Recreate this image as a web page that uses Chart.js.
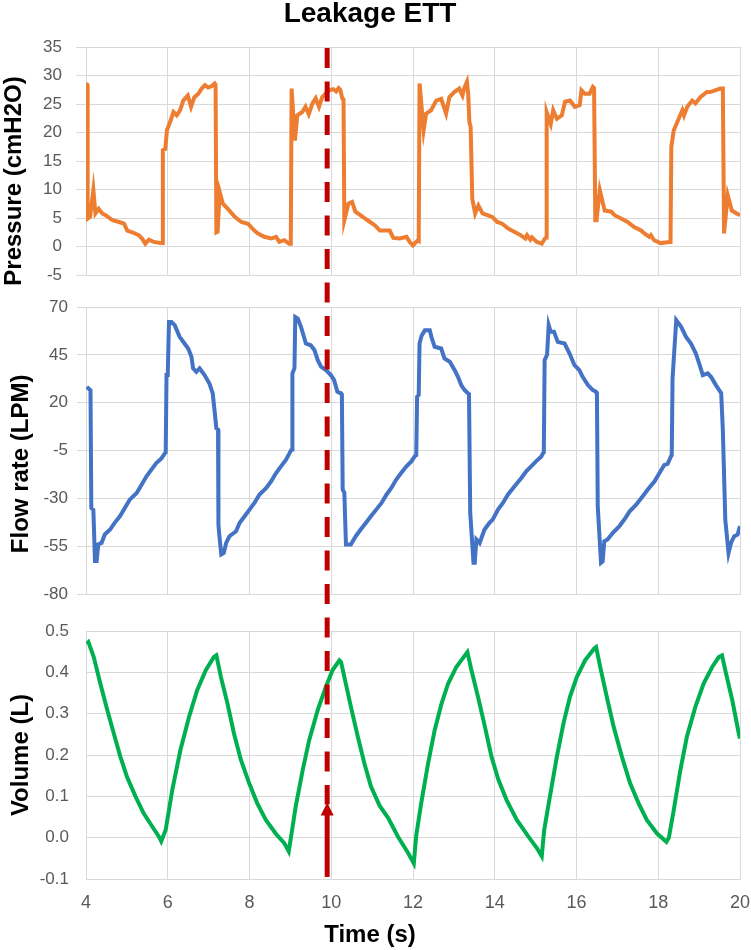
<!DOCTYPE html>
<html>
<head>
<meta charset="utf-8">
<title>Leakage ETT</title>
<script src="https://cdn.jsdelivr.net/npm/chart.js@4.4.1/dist/chart.umd.min.js"></script>
<style>
  html, body { margin: 0; padding: 0; background: #fff; }
  #wrap { position: relative; width: 751px; height: 950px; }
  .panel { position: absolute; left: 0; width: 751px; }
  #pPanel { top: 0; height: 290px; }
  #fPanel { top: 290px; height: 322px; }
  #vPanel { top: 612px; height: 338px; }
</style>
</head>
<body>
<div id="wrap">
  <div class="panel" id="pPanel"><canvas id="pressureChart"></canvas></div>
  <div class="panel" id="fPanel"><canvas id="flowChart"></canvas></div>
  <div class="panel" id="vPanel"><canvas id="volumeChart"></canvas></div>
</div>
<script>
// ===== DATA =====
const pressureTime = [4.00, 4.03, 4.04, 4.10, 4.18, 4.23, 4.31, 4.40, 4.48, 4.65, 4.81, 4.93, 5.01, 5.13, 5.29, 5.37, 5.45, 5.54, 5.66, 5.82, 5.86,
  5.88, 5.94, 5.98, 6.04, 6.14, 6.22, 6.30, 6.38, 6.49, 6.57, 6.65, 6.75, 6.83, 6.91, 6.99, 7.07, 7.15, 7.17,
  7.19, 7.22, 7.27, 7.35, 7.47, 7.64, 7.80, 7.96, 8.04, 8.12, 8.20, 8.36, 8.53, 8.65, 8.73, 8.85, 8.97, 9.01,
  9.03, 9.11, 9.17, 9.29, 9.37, 9.45, 9.54, 9.62, 9.70, 9.78, 9.86, 9.95, 10.05, 10.12, 10.18, 10.22, 10.27, 10.30,
  10.32, 10.42, 10.51, 10.59, 10.71, 10.83, 10.95, 11.07, 11.19, 11.43, 11.52, 11.68, 11.84, 11.92, 12.00, 12.12, 12.14,
  12.16, 12.26, 12.32, 12.44, 12.57, 12.69, 12.81, 12.89, 13.01, 13.13, 13.21, 13.25, 13.32, 13.35, 13.38, 13.41,
  13.45, 13.52, 13.60, 13.70, 13.82, 13.94, 14.06, 14.18, 14.34, 14.50, 14.63, 14.75, 14.79, 14.87, 14.91, 15.03, 15.15, 15.23, 15.26,
  15.27, 15.37, 15.43, 15.52, 15.64, 15.72, 15.84, 15.96, 16.08, 16.12, 16.20, 16.32, 16.40, 16.43,
  16.46, 16.49, 16.57, 16.69, 16.85, 16.93, 17.09, 17.25, 17.41, 17.58, 17.66, 17.78, 17.82, 17.90, 18.06, 18.26, 18.30,
  18.32, 18.38, 18.50, 18.59, 18.63, 18.71, 18.83, 18.91, 19.03, 19.19, 19.27, 19.52, 19.58,
  19.61, 19.70, 19.80, 19.92, 20.00];
const pressureValues = [28.6, 28.4, 4.9, 5.2, 9.9, 5.8, 6.6, 5.8, 5.5, 4.6, 4.3, 4.0, 2.8, 2.5, 2.0, 1.4, 0.5, 1.2, 0.8, 0.6, 0.6,
  16.9, 17.1, 20.4, 21.5, 23.6, 23.0, 23.9, 25.6, 26.5, 24.5, 26.2, 26.8, 27.7, 28.3, 27.9, 28.1, 28.6, 28.4,
  2.5, 2.6, 9.6, 7.5, 6.6, 5.2, 4.3, 4.0, 3.4, 2.8, 2.3, 1.7, 1.4, 1.7, 0.8, 1.1, 0.5, 0.5,
  27.7, 18.6, 23.0, 23.6, 24.5, 23.2, 25.1, 26.0, 24.5, 26.2, 26.8, 27.4, 27.6, 27.2, 27.8, 27.5, 26.0, 25.8,
  4.6, 7.5, 7.8, 6.1, 5.5, 4.9, 4.3, 3.7, 2.8, 2.8, 1.5, 1.4, 1.7, 0.8, 0.2, 1.1, 1.0,
  28.6, 20.4, 23.3, 23.9, 25.6, 25.9, 23.3, 26.2, 27.1, 27.7, 26.5, 27.7, 28.9, 26.8, 21.8, 21.0,
  8.4, 5.8, 7.2, 5.8, 5.5, 5.2, 4.3, 4.0, 3.1, 2.5, 2.0, 1.4, 2.0, 1.2, 1.6, 0.8, 0.5, 1.4, 1.6,
  23.6, 21.5, 23.9, 22.4, 23.0, 25.4, 25.6, 24.5, 24.8, 27.4, 26.8, 26.8, 28.0, 27.8,
  4.6, 4.6, 9.9, 6.3, 6.1, 5.5, 4.9, 4.3, 3.4, 2.8, 2.3, 1.7, 2.0, 1.1, 0.6, 0.8, 0.8,
  17.5, 20.4, 22.4, 23.9, 23.0, 24.5, 25.6, 25.1, 26.2, 27.1, 27.1, 27.7, 27.7,
  2.3, 9.0, 6.3, 5.8, 5.5];

const flowTime = [4.02, 4.08, 4.11, 4.13, 4.18, 4.22, 4.26, 4.30, 4.38, 4.46, 4.59, 4.70, 4.83, 4.95, 5.07, 5.24, 5.36, 5.48, 5.60, 5.72, 5.85, 5.93, 5.95,
  5.97, 6.00, 6.03, 6.09, 6.17, 6.29, 6.41, 6.50, 6.58, 6.62, 6.70, 6.78, 6.90, 7.02, 7.10, 7.19, 7.23,
  7.24, 7.26, 7.31, 7.37, 7.43, 7.51, 7.67, 7.76, 7.88, 8.00, 8.12, 8.24, 8.41, 8.53, 8.65, 8.77, 8.89, 8.98, 9.02, 9.04,
  9.05, 9.10, 9.12, 9.18, 9.26, 9.38, 9.50, 9.59, 9.67, 9.75, 9.87, 9.99, 10.07, 10.15, 10.24, 10.26,
  10.28, 10.32, 10.36, 10.48, 10.60, 10.72, 10.85, 10.97, 11.10, 11.23, 11.35, 11.47, 11.59, 11.71, 11.84, 11.96, 12.04, 12.08,
  12.10, 12.14, 12.16, 12.21, 12.29, 12.41, 12.45, 12.53, 12.69, 12.77, 12.90, 13.02, 13.10, 13.18, 13.26, 13.34, 13.37,
  13.40, 13.48, 13.51, 13.55, 13.63, 13.75, 13.87, 13.95, 14.08, 14.20, 14.32, 14.48, 14.65, 14.77, 14.89, 15.01, 15.14, 15.18, 15.20,
  15.22, 15.28, 15.32, 15.37, 15.45, 15.54, 15.71, 15.83, 15.95, 16.07, 16.15, 16.28, 16.40, 16.48, 16.50,
  16.52, 16.60, 16.64, 16.68, 16.76, 16.89, 17.05, 17.17, 17.30, 17.46, 17.62, 17.74, 17.91, 18.03, 18.15, 18.23, 18.31, 18.33,
  18.35, 18.44, 18.56, 18.68, 18.80, 18.92, 19.00, 19.09, 19.21, 19.29, 19.41, 19.49, 19.54,
  19.58, 19.64, 19.72, 19.78, 19.86, 19.94, 20.00];
const flowValues = [28.3, 27.0, 26.5, -35.0, -36.0, -62.8, -62.8, -54.1, -53.3, -48.9, -46.3, -42.8, -39.4, -35.0, -30.7, -27.2, -22.9, -18.5, -15.0, -11.6, -9.0, -6.4, -6.0,
  34.4, 34.4, 62.2, 62.2, 60.5, 54.4, 50.9, 48.3, 44.0, 37.9, 36.1, 37.9, 34.4, 30.0, 24.9, 6.6, 6.0,
  -43.7, -48.9, -59.3, -58.5, -53.3, -49.8, -47.2, -42.8, -39.4, -35.9, -32.4, -28.1, -24.6, -21.1, -16.8, -13.3, -9.9, -6.4, -4.7, -4.5,
  35.3, 38.0, 64.8, 64.0, 59.6, 50.9, 50.0, 47.4, 42.2, 38.8, 37.0, 34.4, 31.8, 25.7, 24.9, 24.5,
  -25.5, -27.0, -54.1, -54.1, -49.8, -46.3, -42.8, -39.4, -35.9, -32.4, -28.1, -24.6, -20.2, -16.8, -13.3, -10.7, -8.1, -7.5,
  23.1, 24.0, 50.9, 55.0, 57.8, 57.8, 54.4, 49.2, 48.3, 43.1, 41.4, 37.0, 33.5, 29.2, 26.6, 24.9, 24.5,
  -37.6, -63.7, -63.7, -51.5, -53.3, -46.3, -42.8, -41.1, -35.9, -32.4, -28.1, -23.8, -19.4, -15.9, -13.3, -10.7, -8.1, -6.4, -6.0,
  42.2, 45.0, 60.5, 57.0, 57.0, 51.8, 50.9, 45.7, 39.6, 37.0, 33.5, 29.2, 26.6, 25.7, 24.0,
  -34.2, -63.7, -63.0, -52.4, -51.5, -48.0, -44.5, -41.1, -36.8, -33.3, -28.9, -25.5, -21.1, -16.8, -12.5, -12.0, -8.1, -7.5,
  32.7, 63.1, 59.6, 54.4, 50.9, 45.7, 40.5, 34.4, 35.3, 33.5, 29.2, 26.6, 25.0,
  5.8, -41.1, -58.5, -53.3, -49.8, -49.0, -44.5];

const volumeTime = [4.02, 4.06, 4.19, 4.35, 4.52, 4.68, 4.84, 5.00, 5.21, 5.41, 5.62, 5.78, 5.84,
  5.95, 6.11, 6.31, 6.52, 6.72, 6.93, 7.13, 7.19,
  7.30, 7.46, 7.62, 7.79, 7.99, 8.19, 8.40, 8.64, 8.85, 8.96,
  9.01, 9.13, 9.30, 9.46, 9.67, 9.87, 10.03, 10.20, 10.24,
  10.32, 10.48, 10.65, 10.81, 10.97, 11.18, 11.39, 11.63, 11.88, 12.02,
  12.08, 12.20, 12.37, 12.53, 12.70, 12.86, 13.06, 13.27, 13.33,
  13.43, 13.59, 13.76, 13.92, 14.09, 14.29, 14.54, 14.82, 15.03, 15.15,
  15.21, 15.35, 15.52, 15.68, 15.84, 16.01, 16.21, 16.43, 16.48,
  16.58, 16.74, 16.91, 17.11, 17.31, 17.52, 17.72, 17.97, 18.20,
  18.26, 18.38, 18.54, 18.70, 18.91, 19.11, 19.32, 19.48, 19.56,
  19.64, 19.81, 19.97, 20.00];
const volumeValues = [0.469, 0.473, 0.437, 0.373, 0.309, 0.252, 0.196, 0.148, 0.100, 0.059, 0.027, 0.003, -0.009,
  0.019, 0.115, 0.212, 0.292, 0.357, 0.405, 0.437, 0.441,
  0.389, 0.325, 0.252, 0.188, 0.132, 0.083, 0.043, 0.010, -0.013, -0.033,
  -0.002, 0.075, 0.163, 0.236, 0.309, 0.365, 0.405, 0.429, 0.425,
  0.389, 0.317, 0.244, 0.180, 0.124, 0.078, 0.048, 0.003, -0.037, -0.062,
  0.006, 0.083, 0.180, 0.260, 0.325, 0.373, 0.413, 0.441, 0.449,
  0.405, 0.341, 0.268, 0.196, 0.140, 0.091, 0.043, 0.003, -0.025, -0.045,
  0.019, 0.100, 0.196, 0.276, 0.341, 0.389, 0.429, 0.457, 0.461,
  0.413, 0.341, 0.268, 0.196, 0.132, 0.083, 0.043, 0.010, -0.010,
  0.000, 0.067, 0.163, 0.244, 0.317, 0.373, 0.413, 0.437, 0.441,
  0.405, 0.333, 0.252, 0.240];

// axis ranges / ticks
const timeRange = [4, 20];
const timeStep = 2;
const pressureRange = [-5, 35];
const pressureStep = 5;
const flowRange = [-80, 70];
const flowStep = 25;
const volumeRange = [-0.1, 0.5];
const volumeStep = 0.1;

// red marker (time of the event, arrow in volume units)
const markerTime = 9.9;
const arrowTipVolume = 0.085;
const arrowBaseVolume = -0.095;

// ===== STYLE =====
const GRID = "#d9d9d9";
const TICK_COLOR = "#595959";
const MARK_RED = "#c00000";
const DASH = [20, 13.5];
const DASH_START = 48;   // page y where the dash pattern starts
const PLOT_LEFT = 86;
const PLOT_RIGHT_PAD = 11;

Chart.defaults.font.family = '"Liberation Sans", Arial, Helvetica, sans-serif';
Chart.defaults.color = TICK_COLOR;

function points(times, values) {
    return times.map((t, i) => ({ x: t, y: values[i] }));
}

function lineDataset(times, values, color) {
    return {
        data: points(times, values),
        borderColor: color,
        borderWidth: 4,
        pointRadius: 0,
        tension: 0,
        fill: false
    };
}

// dashed red line + arrow, drawn from the x scale of each panel
const markerPlugin = {
    id: "marker",
    afterDraw(chart, args, opts) {
        const ctx = chart.ctx;
        const area = chart.chartArea;
        const x = chart.scales.x.getPixelForValue(markerTime);
        const yStart = opts.startAtArea ? area.top + 1 : 0;
        const yEnd = opts.arrow ? chart.scales.y.getPixelForValue(arrowTipVolume) + 2 : chart.height;
        ctx.save();
        ctx.strokeStyle = MARK_RED;
        ctx.fillStyle = MARK_RED;
        ctx.lineWidth = 5;
        ctx.setLineDash(DASH);
        ctx.lineDashOffset = opts.pageTop + yStart - DASH_START;
        ctx.beginPath();
        ctx.moveTo(x, yStart);
        ctx.lineTo(x, yEnd);
        ctx.stroke();
        if (opts.arrow) {
            const tip = chart.scales.y.getPixelForValue(arrowTipVolume);
            const base = chart.scales.y.getPixelForValue(arrowBaseVolume);
            ctx.setLineDash([]);
            ctx.beginPath();
            ctx.moveTo(x, tip + 8);
            ctx.lineTo(x, base);
            ctx.stroke();
            ctx.beginPath();
            ctx.moveTo(x, tip);
            ctx.lineTo(x - 6.5, tip + 13);
            ctx.lineTo(x + 6.5, tip + 13);
            ctx.closePath();
            ctx.fill();
        }
        ctx.restore();
    }
};

function xScale(showTicks, height) {
    return {
        type: "linear",
        min: timeRange[0],
        max: timeRange[1],
        ticks: { stepSize: timeStep, display: showTicks, padding: 13, font: { size: 18 }, color: TICK_COLOR },
        grid: { color: GRID, drawTicks: false },
        border: { color: GRID },
        afterFit: s => {
            s.height = height;
            s.paddingLeft = 0;
            s.paddingRight = 0;
        }
    };
}

function yScale(range, step, title, titlePad, tickLen, pad, callback) {
    return {
        min: range[0],
        max: range[1],
        ticks: { stepSize: step, padding: pad, font: { size: 17 }, color: TICK_COLOR, callback: callback },
        grid: { color: GRID, drawTicks: tickLen > 0, tickLength: tickLen },
        border: { color: GRID },
        title: {
            display: true,
            text: title,
            color: "#000",
            font: { size: 24, weight: "bold" },
            padding: { top: titlePad, bottom: 0 }
        },
        afterFit: s => {
            s.width = PLOT_LEFT;
            s.paddingTop = 0;
            s.paddingBottom = 0;
        }
    };
}

document.addEventListener("DOMContentLoaded", function () {
    // ===== PRESSURE =====
    new Chart(document.getElementById("pressureChart"), {
        type: "line",
        data: { datasets: [lineDataset(pressureTime, pressureValues, "#ed7d31")] },
        options: {
            responsive: true,
            maintainAspectRatio: false,
            animation: false,
            layout: { padding: { top: 0, right: PLOT_RIGHT_PAD, bottom: 0, left: 0 } },
            scales: {
                x: xScale(false, 15),
                y: yScale(pressureRange, pressureStep, "Pressure (cmH2O)      ", 0, 10, 14)
            },
            plugins: {
                legend: { display: false },
                tooltip: { enabled: false },
                title: {
                    display: true,
                    text: "Leakage ETT",
                    color: "#000",
                    font: { size: 28, weight: "bold", lineHeight: 1 },
                    padding: { top: 0, bottom: 19 }
                },
                marker: { pageTop: 0, startAtArea: true }
            }
        },
        plugins: [markerPlugin]
    });

    // ===== FLOW RATE =====
    new Chart(document.getElementById("flowChart"), {
        type: "line",
        data: { datasets: [lineDataset(flowTime, flowValues, "#4472c4")] },
        options: {
            responsive: true,
            maintainAspectRatio: false,
            animation: false,
            layout: { padding: { top: 17, right: PLOT_RIGHT_PAD, bottom: 0, left: 0 } },
            scales: {
                x: xScale(false, 18),
                y: yScale(flowRange, flowStep, "Flow rate (LPM)    ", 7, 9, 9)
            },
            plugins: {
                legend: { display: false },
                tooltip: { enabled: false },
                marker: { pageTop: 290 }
            }
        },
        plugins: [markerPlugin]
    });

    // ===== VOLUME =====
    new Chart(document.getElementById("volumeChart"), {
        type: "line",
        data: { datasets: [lineDataset(volumeTime, volumeValues, "#00b050")] },
        options: {
            responsive: true,
            maintainAspectRatio: false,
            animation: false,
            layout: { padding: { top: 19, right: PLOT_RIGHT_PAD, bottom: 0, left: 0 } },
            scales: {
                x: xScale(true, 38.2),
                y: yScale(volumeRange, volumeStep, "Volume (L)", 7, 0, 17,
                    v => (Math.abs(v) < 1e-9 ? 0 : v).toFixed(1))
            },
            plugins: {
                legend: { display: false },
                tooltip: { enabled: false },
                title: {
                    display: true,
                    position: "bottom",
                    text: "Time (s)",
                    color: "#000",
                    font: { size: 24, weight: "bold" },
                    padding: { top: 4, bottom: 0 }
                },
                marker: { pageTop: 612, arrow: true }
            }
        },
        plugins: [markerPlugin]
    });
});
</script>
</body>
</html>
